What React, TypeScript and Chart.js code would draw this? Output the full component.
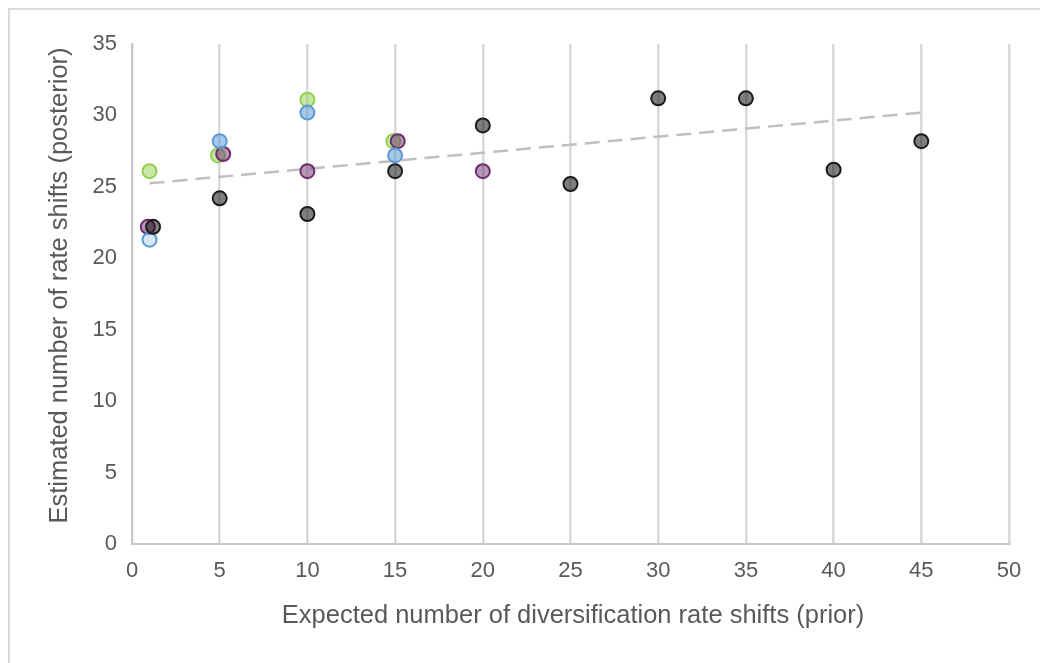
import React, { useEffect, useRef } from "react";
import { Chart, registerables } from "chart.js";

Chart.register(...registerables);

// ---- data ----
const greenX = [1, 4.9, 10, 14.9];
const greenY = [26.1, 27.2, 31.1, 28.2];

const lightBlueX = [1];
const lightBlueY = [21.3];

const blueX = [5, 10, 15];
const blueY = [28.2, 30.2, 27.2];

const purpleX = [0.9, 5.2, 10, 15.15, 20];
const purpleY = [22.2, 27.3, 26.1, 28.2, 26.1];

const blackX = [1.2, 5, 10, 15, 20, 25, 30, 35, 40, 45];
const blackY = [22.2, 24.2, 23.1, 26.1, 29.3, 25.2, 31.2, 31.2, 26.2, 28.2];

const trendX = [1, 45];
const trendY = [25.25, 30.2];

const xTicks = [0, 5, 10, 15, 20, 25, 30, 35, 40, 45, 50];
const yTicks = [0, 5, 10, 15, 20, 25, 30, 35];

const xTitle = "Expected number of diversification rate shifts (prior)";
const yTitle = "Estimated number of rate shifts (posterior)";

const pts = (xs: number[], ys: number[]) => xs.map((x, i) => ({ x, y: ys[i] }));

const FONT = "'Liberation Sans', Arial, Helvetica, sans-serif";

// Axis titles drawn at the positions seen in the reference
const axisTitles = {
  id: "axisTitles",
  afterDraw(chart: any) {
    const ctx = chart.ctx;
    ctx.save();
    ctx.fillStyle = "#595959";
    ctx.font = `25.5px ${FONT}`;
    ctx.textAlign = "center";
    ctx.textBaseline = "middle";
    ctx.fillText(xTitle, 573, 616);
    ctx.translate(60, 285.5);
    ctx.rotate(-Math.PI / 2);
    ctx.fillText(yTitle, 0, 0);
    ctx.restore();
  },
};

export default function App() {
  const ref = useRef<HTMLCanvasElement | null>(null);

  useEffect(() => {
    if (!ref.current) return;
    const pointDs = (label: string, data: any[], border: string, fill: string) => ({
      type: "scatter" as const,
      label,
      data,
      pointRadius: 7,
      pointHoverRadius: 7,
      pointBorderWidth: 2,
      pointBorderColor: border,
      pointBackgroundColor: fill,
      borderColor: border,
      backgroundColor: fill,
      showLine: false,
    });
    const chart = new Chart(ref.current, {
      type: "scatter",
      data: {
        datasets: [
          pointDs("Black", pts(blackX, blackY), "#1b1b1b", "rgba(0,0,0,0.5)"),
          pointDs("Blue", pts(blueX, blueY), "#5b9bd5", "rgba(91,155,213,0.55)"),
          pointDs("Light blue", pts(lightBlueX, lightBlueY), "#5b9bd5", "rgba(91,155,213,0.25)"),
          pointDs("Purple", pts(purpleX, purpleY), "#6e2c6e", "rgba(112,48,112,0.5)"),
          pointDs("Green", pts(greenX, greenY), "#92d050", "rgba(146,208,80,0.5)"),
          {
            type: "line" as const,
            label: "Trend",
            data: pts(trendX, trendY),
            borderColor: "#bfbfbf",
            borderWidth: 2.5,
            borderDash: [15, 8],
            pointRadius: 0,
            fill: false,
            showLine: true,
          } as any,
        ],
      },
      options: {
        animation: false,
        responsive: false,
        maintainAspectRatio: false,
        layout: { padding: { top: 44, right: 31, left: 0, bottom: 0 } },
        plugins: {
          legend: { display: false },
          tooltip: { enabled: false },
        },
        scales: {
          x: {
            type: "linear",
            min: 0,
            max: 50,
            afterBuildTicks: (s: any) => {
              s.ticks = xTicks.map((v) => ({ value: v }));
            },
            afterFit: (s: any) => {
              s.height = 119;
            },
            grid: {
              display: true,
              color: "#d9d9d9",
              lineWidth: 2.5,
              drawTicks: false,
            },
            border: { display: true, color: "#c8c8c8", width: 2 },
            ticks: {
              color: "#595959",
              font: { family: FONT, size: 22 },
              padding: 14,
              maxRotation: 0,
            },
            title: { display: false },
          },
          y: {
            type: "linear",
            min: 0,
            max: 35,
            afterBuildTicks: (s: any) => {
              s.ticks = yTicks.map((v) => ({ value: v }));
            },
            afterFit: (s: any) => {
              s.width = 132;
            },
            grid: { display: false, drawTicks: false },
            border: { display: true, color: "#c8c8c8", width: 2 },
            ticks: {
              color: "#595959",
              font: { family: FONT, size: 22 },
              padding: 15,
            },
            title: { display: false },
          },
        },
      },
      plugins: [axisTitles],
    });
    return () => chart.destroy();
  }, []);

  return (
    <>
      <div
        style={{
          position: "fixed",
          left: 8,
          top: 8,
          width: 1100,
          height: 720,
          borderLeft: "2px solid #d9d9d9",
          borderTop: "2px solid #d9d9d9",
          background: "#ffffff",
        }}
      />
      <canvas
        ref={ref}
        width={1040}
        height={663}
        style={{ position: "fixed", left: 0, top: 0, width: 1040, height: 663 }}
      />
    </>
  );
}
